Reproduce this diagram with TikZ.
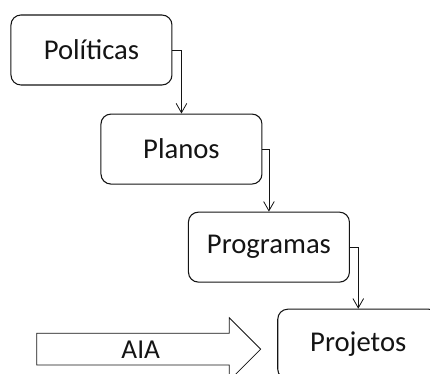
\documentclass[tikz,border=0pt]{standalone}
\usepackage{fontspec}
\setmainfont{Carlito}
\usepackage{tikz}
\usetikzlibrary{arrows.meta, positioning, shapes.arrows}
\definecolor{mydark}{RGB}{20,20,20}
\tikzset{
  stage/.style={rectangle, draw=mydark, fill=white, line width=0.8pt,
    minimum width=120.75pt, minimum height=52.5pt, rounded corners=7.5pt,
    font=\fontsize{21.5}{25}\selectfont, text=mydark, inner sep=0pt},
  arrow/.style={-{Straight Barb[length=7pt,width=8pt]}, line width=0.6pt, color=mydark},
  bigarrow/.style={single arrow, draw=mydark, line width=0.6pt,
    minimum height=168pt, single arrow head extend=11.6pt,
    text height=18.75pt, text depth=4.5pt, inner ysep=0pt,
    font=\fontsize{20.5}{24}\selectfont, text=mydark}
}

\begin{document}
\begin{tikzpicture}
  \clip (0,0) rectangle (322.5pt,-280.5pt);

  \node[stage] (pol) at (68.6pt,-37.5pt) {Políticas};
  \node[stage, below=21pt of pol, xshift=67.5pt] (plan) {Planos};
  \node[stage, below=20.25pt of plan, xshift=65.6pt] (prog) {Programas};
  \node[stage, below=19.5pt of prog, xshift=67pt] (proj) {Projetos};

  \draw[arrow] (pol.east) -| (plan.north);
  \draw[arrow] (plan.east) -| (prog.north);
  \draw[arrow] (prog.east) -| (proj.north);

  \node[bigarrow, left=12pt of proj, yshift=-3.75pt] (aia) {AIA};
\end{tikzpicture}
\end{document}
